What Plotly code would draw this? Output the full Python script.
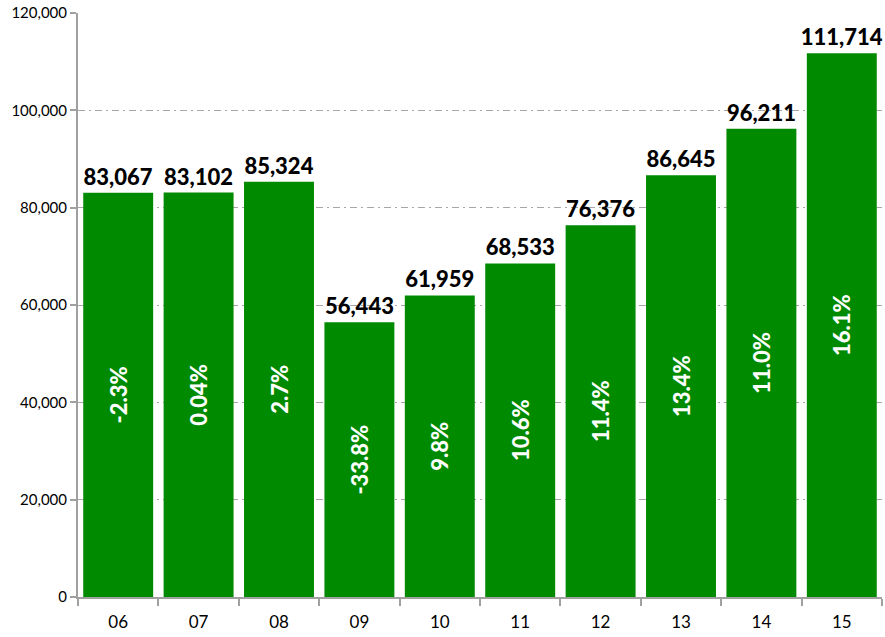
import plotly.graph_objects as go

years = ["06", "07", "08", "09", "10", "11", "12", "13", "14", "15"]
values = [83067, 83102, 85324, 56443, 61959, 68533, 76376, 86645, 96211, 111714]
growth = ["-2.3%", "0.04%", "2.7%", "-33.8%", "9.8%", "10.6%", "11.4%", "13.4%", "11.0%", "16.1%"]
y_ticks = [0, 20000, 40000, 60000, 80000, 100000, 120000]

GREEN = "#008A00"
FONT = "Lato, 'Open Sans', sans-serif"

fig = go.Figure()
fig.add_trace(go.Bar(
    x=years, y=values,
    marker=dict(color=GREEN, line=dict(width=0)),
    text=[f"{v:,}" for v in values],
    textposition="outside",
    constraintext="none",
    outsidetextfont=dict(family=FONT, size=22, color="black", weight=900),
    cliponaxis=False,
    width=0.87,
    hoverinfo="skip",
))
fig.add_trace(go.Bar(
    x=years, y=values,
    marker=dict(color="rgba(0,0,0,0)", line=dict(width=0)),
    text=growth,
    textposition="inside",
    insidetextanchor="middle",
    constraintext="none",
    textangle=-90,
    insidetextfont=dict(family=FONT, size=22, color="white", weight=900),
    width=0.87,
    hoverinfo="skip",
))

fig.update_layout(
    width=885, height=637,
    margin=dict(l=78, r=3, t=13, b=40),
    paper_bgcolor="white", plot_bgcolor="white",
    barmode="overlay",
    showlegend=False,
    font=dict(family=FONT, color="black"),
)
fig.update_xaxes(
    type="category",
    showline=True, linecolor="#A0A0A0", linewidth=2,
    ticks="outside", tickson="boundaries", ticklen=7, tickcolor="#A0A0A0", tickwidth=2,
    tickfont=dict(size=17, family=FONT),
    ticklabelstandoff=9,
    showgrid=False,
)
fig.update_yaxes(
    range=[0, 120000],
    tickvals=y_ticks,
    ticktext=[f"{t:,}" for t in y_ticks],
    showline=True, linecolor="#A0A0A0", linewidth=2,
    ticks="outside", ticklen=6, tickcolor="#A0A0A0", tickwidth=2,
    tickfont=dict(size=15, family=FONT),
    showgrid=True, gridcolor="#A6A6A6", gridwidth=1, griddash="7px,4px,2px,4px",
    zeroline=False,
)

fig.write_html("out.html", config={"displayModeBar": False},
               post_script="document.body.style.margin='0';")
